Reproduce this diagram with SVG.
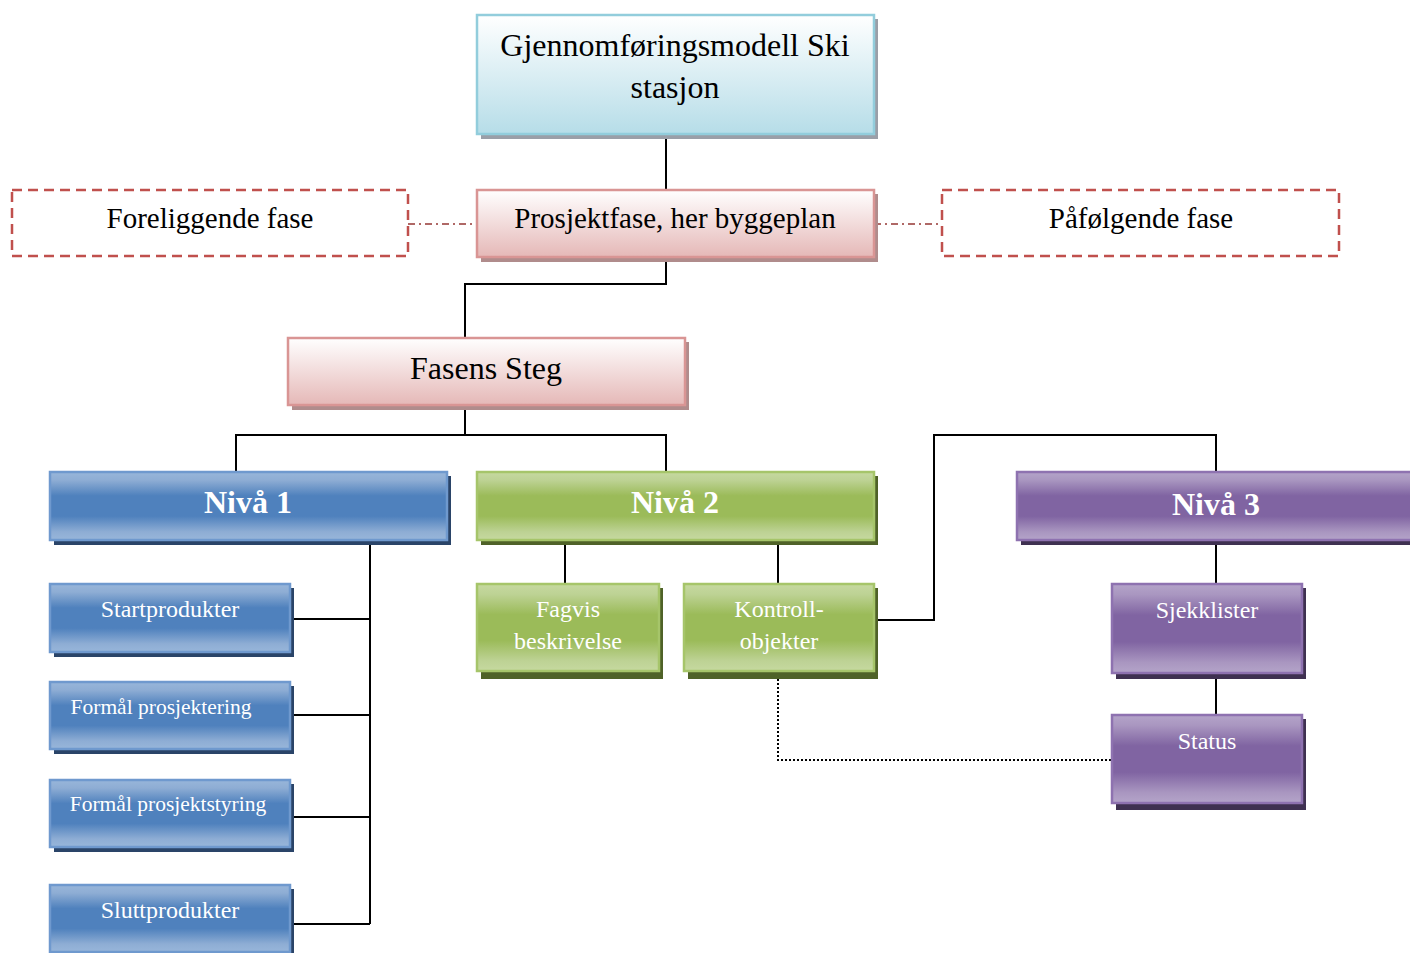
<svg xmlns="http://www.w3.org/2000/svg" width="1410" height="953" viewBox="0 0 1410 953">
  <defs>
    <linearGradient id="gBlueTop" x1="0" y1="0" x2="0" y2="1">
      <stop offset="0" stop-color="#ffffff"/>
      <stop offset="1" stop-color="#b6dde8"/>
    </linearGradient>
    <linearGradient id="gPink" x1="0" y1="0" x2="0" y2="1">
      <stop offset="0" stop-color="#ffffff"/>
      <stop offset="1" stop-color="#e5b8b7"/>
    </linearGradient>
    <linearGradient id="gBlue" x1="0" y1="0" x2="0" y2="1">
      <stop offset="0" stop-color="#98b6da"/>
      <stop offset="0.12" stop-color="#8eadd4"/>
      <stop offset="0.35" stop-color="#4f81bd"/>
      <stop offset="0.65" stop-color="#4f81bd"/>
      <stop offset="0.88" stop-color="#8eadd4"/>
      <stop offset="1" stop-color="#98b6da"/>
    </linearGradient>
    <linearGradient id="gGreen" x1="0" y1="0" x2="0" y2="1">
      <stop offset="0" stop-color="#c6d9a0"/>
      <stop offset="0.12" stop-color="#bdd294"/>
      <stop offset="0.35" stop-color="#9bbb59"/>
      <stop offset="0.65" stop-color="#9bbb59"/>
      <stop offset="0.88" stop-color="#bdd294"/>
      <stop offset="1" stop-color="#c6d9a0"/>
    </linearGradient>
    <linearGradient id="gPurple" x1="0" y1="0" x2="0" y2="1">
      <stop offset="0" stop-color="#b4a4c9"/>
      <stop offset="0.12" stop-color="#a996c0"/>
      <stop offset="0.35" stop-color="#8064a2"/>
      <stop offset="0.65" stop-color="#8064a2"/>
      <stop offset="0.88" stop-color="#a996c0"/>
      <stop offset="1" stop-color="#b4a4c9"/>
    </linearGradient>
  </defs>
  <style>
    text { font-family: "Liberation Serif", "Times New Roman", serif; text-anchor: middle; }
    .dark { fill: #000000; }
    .light { fill: #ffffff; }
    .bold { font-weight: bold; }
    .conn { fill: none; stroke: #000000; stroke-width: 2; }
    .dot { fill: none; stroke: #000000; stroke-width: 2; stroke-dasharray: 2 2; }
    .dashdot { fill: none; stroke: #953735; stroke-width: 1.5; stroke-dasharray: 7 4 2 4; }
    .dashbox { fill: #ffffff; stroke: #c0504d; stroke-width: 2.5; stroke-dasharray: 10 6; }
    .bTop { fill: url(#gBlueTop); stroke: #92cddc; stroke-width: 2.5; }
    .sTop { fill: #9a9fa8; }
    .bPink { fill: url(#gPink); stroke: #d99594; stroke-width: 2.5; }
    .sPink { fill: #b08c8c; }
    .bBlue { fill: url(#gBlue); stroke: #6f99ce; stroke-width: 2.5; }
    .sBlue { fill: #2a4468; }
    .bGreen { fill: url(#gGreen); stroke: #a6c56a; stroke-width: 2.5; }
    .sGreen { fill: #4f6228; }
    .bPurple { fill: url(#gPurple); stroke: #8e72b0; stroke-width: 2.5; }
    .sPurple { fill: #3f3151; }
  </style>

  <!-- connectors -->
  <g id="connectors">
    <path class="conn" d="M666 134 V190"/>
    <path class="conn" d="M666 257 V284 H465 V338"/>
    <path class="conn" d="M465 405 V435"/>
    <path class="conn" d="M236 472 V435 H666 V472"/>
    <path class="conn" d="M370 540 V924"/>
    <path class="conn" d="M290 619 H370"/>
    <path class="conn" d="M290 715 H370"/>
    <path class="conn" d="M290 817 H370"/>
    <path class="conn" d="M290 924 H370"/>
    <path class="conn" d="M565 540 V584"/>
    <path class="conn" d="M778 540 V584"/>
    <path class="conn" d="M874 620 H934 V435 H1216 V472"/>
    <path class="conn" d="M1216 540 V584"/>
    <path class="conn" d="M1216 673 V715"/>
    <path class="dot" d="M778 671 V760 H1112"/>
    <path class="dashdot" d="M408 224 H477"/>
    <path class="dashdot" d="M874 224 H942"/>
  </g>

  <!-- title -->
  <g id="node-model">
    <rect class="sTop" x="481" y="19" width="397" height="120"/>
    <rect class="bTop" x="477" y="15" width="397" height="119"/>
    <text class="dark" x="675" y="56" font-size="32">Gjennomføringsmodell Ski</text>
    <text class="dark" x="675" y="98" font-size="32">stasjon</text>
  </g>

  <!-- phases -->
  <g id="node-foreliggende">
    <rect class="dashbox" x="12" y="190" width="396" height="66"/>
    <text class="dark" x="210" y="228" font-size="29">Foreliggende fase</text>
  </g>
  <g id="node-prosjektfase">
    <rect class="sPink" x="481" y="194" width="397" height="68"/>
    <rect class="bPink" x="477" y="190" width="397" height="67"/>
    <text class="dark" x="675" y="228" font-size="29">Prosjektfase, her byggeplan</text>
  </g>
  <g id="node-pafolgende">
    <rect class="dashbox" x="942" y="190" width="397" height="66"/>
    <text class="dark" x="1141" y="228" font-size="29">Påfølgende fase</text>
  </g>

  <g id="node-steg">
    <rect class="sPink" x="292" y="342" width="397" height="68"/>
    <rect class="bPink" x="288" y="338" width="397" height="67"/>
    <text class="dark" x="486" y="379" font-size="32">Fasens Steg</text>
  </g>

  <!-- level headers -->
  <g id="node-niva1">
    <rect class="sBlue" x="54" y="476" width="397" height="69"/>
    <rect class="bBlue" x="50" y="472" width="397" height="68"/>
    <text class="light bold" x="248" y="513" font-size="32">Nivå 1</text>
  </g>
  <g id="node-niva2">
    <rect class="sGreen" x="481" y="476" width="397" height="69"/>
    <rect class="bGreen" x="477" y="472" width="397" height="68"/>
    <text class="light bold" x="675" y="513" font-size="32">Nivå 2</text>
  </g>
  <g id="node-niva3">
    <rect class="sPurple" x="1021" y="476" width="400" height="69"/>
    <rect class="bPurple" x="1017" y="472" width="400" height="68"/>
    <text class="light bold" x="1216" y="515" font-size="32">Nivå 3</text>
  </g>

  <!-- level 1 items -->
  <g id="node-startprodukter">
    <rect class="sBlue" x="54" y="588" width="240" height="69"/>
    <rect class="bBlue" x="50" y="584" width="240" height="68"/>
    <text class="light" x="170" y="617" font-size="24">Startprodukter</text>
  </g>
  <g id="node-formal-prosjektering">
    <rect class="sBlue" x="54" y="686" width="240" height="68"/>
    <rect class="bBlue" x="50" y="682" width="240" height="67"/>
    <text class="light" x="161" y="714" font-size="21.5">Formål prosjektering</text>
  </g>
  <g id="node-formal-prosjektstyring">
    <rect class="sBlue" x="54" y="784" width="240" height="68"/>
    <rect class="bBlue" x="50" y="780" width="240" height="67"/>
    <text class="light" x="168" y="811" font-size="21.5">Formål prosjektstyring</text>
  </g>
  <g id="node-sluttprodukter">
    <rect class="sBlue" x="54" y="889" width="240" height="68"/>
    <rect class="bBlue" x="50" y="885" width="240" height="67"/>
    <text class="light" x="170" y="918" font-size="24">Sluttprodukter</text>
  </g>

  <!-- level 2 items -->
  <g id="node-fagvis">
    <rect class="sGreen" x="481" y="588" width="182" height="91"/>
    <rect class="bGreen" x="477" y="584" width="182" height="87"/>
    <text class="light" x="568" y="617" font-size="24">Fagvis</text>
    <text class="light" x="568" y="649" font-size="24">beskrivelse</text>
  </g>
  <g id="node-kontroll">
    <rect class="sGreen" x="688" y="588" width="190" height="91"/>
    <rect class="bGreen" x="684" y="584" width="190" height="87"/>
    <text class="light" x="779" y="617" font-size="24">Kontroll-</text>
    <text class="light" x="779" y="649" font-size="24">objekter</text>
  </g>

  <!-- level 3 items -->
  <g id="node-sjekklister">
    <rect class="sPurple" x="1116" y="588" width="190" height="91"/>
    <rect class="bPurple" x="1112" y="584" width="190" height="89"/>
    <text class="light" x="1207" y="618" font-size="24">Sjekklister</text>
  </g>
  <g id="node-status">
    <rect class="sPurple" x="1116" y="719" width="190" height="91"/>
    <rect class="bPurple" x="1112" y="715" width="190" height="88"/>
    <text class="light" x="1207" y="749" font-size="24">Status</text>
  </g>
</svg>
